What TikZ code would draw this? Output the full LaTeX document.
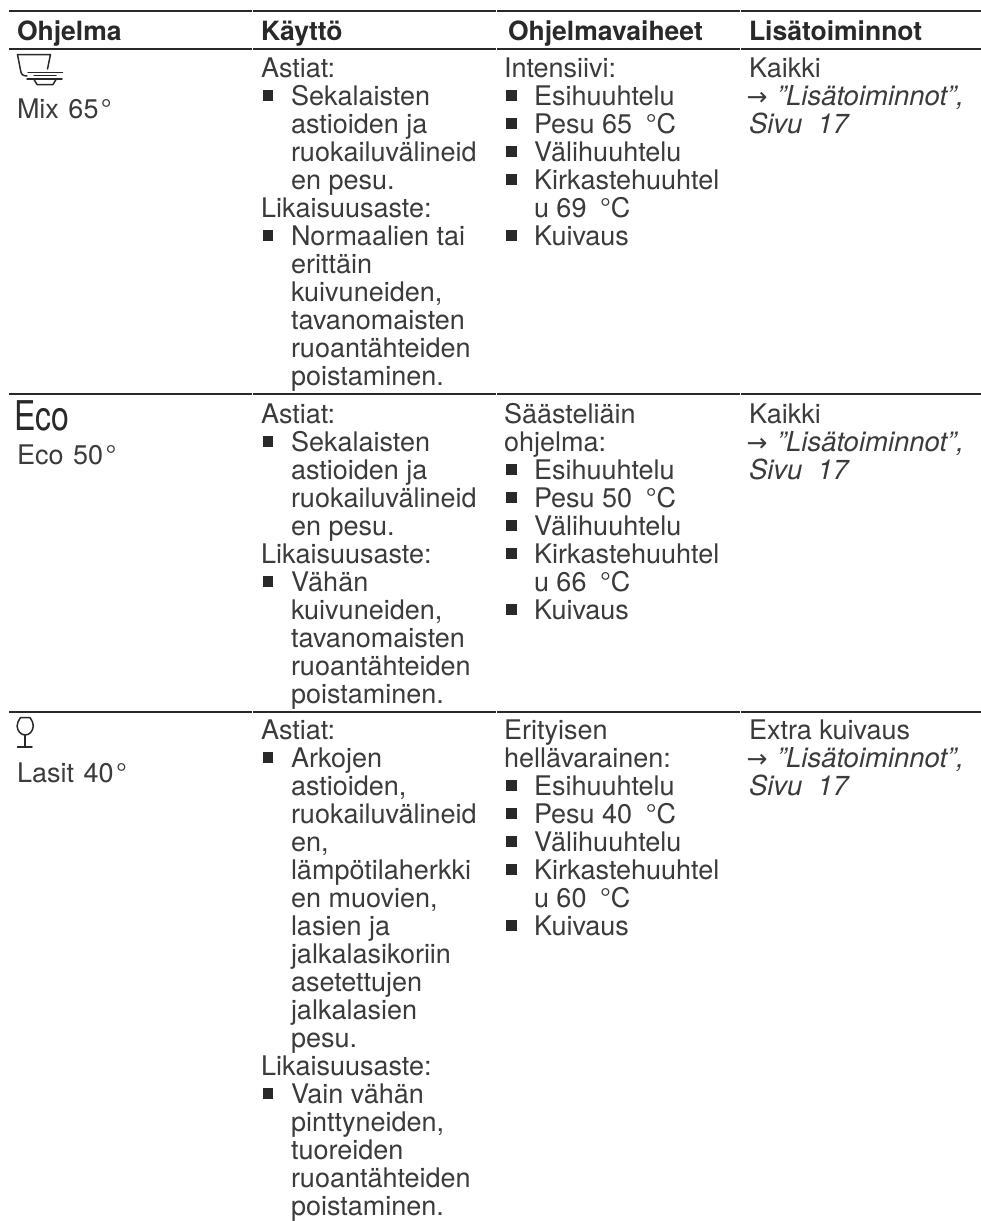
\documentclass[tikz,border=0pt]{standalone}
\usepackage{fontspec}
\setmainfont{TeX Gyre Heros}
\newfontfamily\arrowfont{DejaVu Sans}
\definecolor{ink}{HTML}{2A2828}
\definecolor{body}{HTML}{3C3A3A}
\newcounter{tn}
\tikzset{
  x=1pt,y=-1pt,
  txt/.style={anchor=base west,inner sep=0pt,outer sep=0pt,text=body,font=\fontsize{27}{28}\selectfont},
  hdr/.style={anchor=base west,inner sep=0pt,outer sep=0pt,text=ink,font=\fontsize{26.5}{28}\selectfont\bfseries},
  ital/.style={txt,font=\fontsize{27.5}{28}\selectfont\itshape},
  arr/.style={txt,font=\fontsize{25}{26}\selectfont\arrowfont},
  rulethick/.style={line width=1.8pt,draw=ink},
  bul/.style={fill=ink,draw=none,minimum size=10.5pt,inner sep=0pt,outer sep=0pt,rectangle},
  icon/.style={line width=1.5pt,draw=ink,line cap=round,line join=round}
}
% #1 x, #2 first baseline, #3 line number, #4 text
\newcommand{\tl}[4]{\stepcounter{tn}\node[txt] (t\arabic{tn}) at (#1,{#2+28*#3}) {#4};}
\newcommand{\il}[4]{\stepcounter{tn}\node[ital] (t\arabic{tn}) at (#1,{#2+28*#3}) {#4};}
\newcommand{\bla}[3]{\stepcounter{tn}\node[bul] (b\arabic{tn}) at (268,{#1+28*#2-9.5}) {};\node[txt] (t\arabic{tn}) at (291,{#1+28*#2}) {#3};}
\newcommand{\blb}[3]{\stepcounter{tn}\node[bul] (b\arabic{tn}) at (511.5,{#1+28*#2-9.5}) {};\node[txt] (t\arabic{tn}) at (534,{#1+28*#2}) {#3};}
\newcommand{\rowrule}[1]{\draw[rulethick] (9,#1) -- (252,#1); \draw[rulethick] (252.7,#1) -- (496,#1); \draw[rulethick] (496.7,#1) -- (740,#1); \draw[rulethick] (740.7,#1) -- (981,#1);}
\newcommand{\seealso}[1]{%
  \stepcounter{tn}\node[arr] (a\arabic{tn}) at (746.5,{#1+28}) {→};
  \il{777}{#1}{1}{"Lisätoiminnot",}
  \il{749}{#1}{2}{Sivu\hspace{0.55em}17}}
\newcommand{\degc}{\hspace{6pt}°C}
\newcommand{\degr}{\hspace{2.5pt}°}
\newcommand{\numsp}{\hspace{2pt}}
\begin{document}
\begin{tikzpicture}
\useasboundingbox (0,0) rectangle (981,1221);
\fill[white] (0,0) rectangle (981,1221);
\rowrule{11}\rowrule{48.7}\rowrule{394}\rowrule{712}
\node[hdr] (h1) at (17,40) {Ohjelma};
\node[hdr] (h2) at (261,40) {Käyttö};
\node[hdr] (h3) at (508,40) {Ohjelmavaiheet};
\node[hdr] (h4) at (749,40) {Lisätoiminnot};
% cup icon
\draw[icon] (17.5,54.5) -- (50.5,54.5) -- (47.5,69);
\draw[icon] (17.5,54.5) -- (20.5,70) .. controls (21,74.5) and (23,76) .. (27,76);
\draw[icon] (28,72.5) -- (62.5,72.5);
\draw[icon] (34,75.5) -- (56,75.5);
\draw[icon] (27,79) -- (62,79);
\draw[icon] (34,79.5) -- (37,84.5) -- (53,84.5) -- (56,79.5);
\tl{17}{118}{0}{Mix \numsp 65\degr}
% row 1
\tl{261}{77}{0}{Astiat:}
\bla{77}{1}{Sekalaisten}
\tl{291}{77}{2}{astioiden ja}
\tl{291}{77}{3}{ruokailuvälineid}
\tl{291}{77}{4}{en pesu.}
\tl{261}{77}{5}{Likaisuusaste:}
\bla{77}{6}{Normaalien tai}
\tl{291}{77}{7}{erittäin}
\tl{291}{77}{8}{kuivuneiden,}
\tl{291}{77}{9}{tavanomaisten}
\tl{291}{77}{10}{ruoantähteiden}
\tl{291}{77}{11}{poistaminen.}
\tl{504}{77}{0}{Intensiivi:}
\blb{77}{1}{Esihuuhtelu}
\blb{77}{2}{Pesu 65 \degc}
\blb{77}{3}{Välihuuhtelu}
\blb{77}{4}{Kirkastehuuhtel}
\tl{534}{77}{5}{u 69 \degc}
\blb{77}{6}{Kuivaus}
\tl{749}{77}{0}{Kaikki}
\seealso{77}
% row 2
\node[txt,font=\fontsize{41}{41}\selectfont,xscale=.78,text=ink] (eco) at (14,430) {Eco};
\tl{17}{464}{0}{Eco \numsp 50\degr}
\tl{261}{423}{0}{Astiat:}
\bla{423}{1}{Sekalaisten}
\tl{291}{423}{2}{astioiden ja}
\tl{291}{423}{3}{ruokailuvälineid}
\tl{291}{423}{4}{en pesu.}
\tl{261}{423}{5}{Likaisuusaste:}
\bla{423}{6}{Vähän}
\tl{291}{423}{7}{kuivuneiden,}
\tl{291}{423}{8}{tavanomaisten}
\tl{291}{423}{9}{ruoantähteiden}
\tl{291}{423}{10}{poistaminen.}
\tl{504}{423}{0}{Säästeliäin}
\tl{504}{423}{1}{ohjelma:}
\blb{423}{2}{Esihuuhtelu}
\blb{423}{3}{Pesu 50 \degc}
\blb{423}{4}{Välihuuhtelu}
\blb{423}{5}{Kirkastehuuhtel}
\tl{534}{423}{6}{u 66 \degc}
\blb{423}{7}{Kuivaus}
\tl{749}{423}{0}{Kaikki}
\seealso{423}
% row 3
\draw[icon] (20.5,717.5) -- (30,717.5) .. controls (32,721) and (33.5,723) .. (33.3,726) .. controls (33,731) and (29.5,735) .. (25.2,735) .. controls (21,735) and (17.3,731) .. (17.1,726) .. controls (17,723) and (18.5,721) .. (20.5,717.5);
\draw[icon] (25.2,735) -- (25.2,747);
\draw[icon] (17.5,747) -- (32,747);
\tl{17}{782}{0}{Lasit \numsp 40\degr}
\tl{261}{739}{0}{Astiat:}
\bla{739}{1}{Arkojen}
\tl{291}{739}{2}{astioiden,}
\tl{291}{739}{3}{ruokailuvälineid}
\tl{291}{739}{4}{en,}
\tl{291}{739}{5}{lämpötilaherkki}
\tl{291}{739}{6}{en muovien,}
\tl{291}{739}{7}{lasien ja}
\tl{291}{739}{8}{jalkalasikoriin}
\tl{291}{739}{9}{asetettujen}
\tl{291}{739}{10}{jalkalasien}
\tl{291}{739}{11}{pesu.}
\tl{261}{739}{12}{Likaisuusaste:}
\bla{739}{13}{Vain vähän}
\tl{291}{739}{14}{pinttyneiden,}
\tl{291}{739}{15}{tuoreiden}
\tl{291}{739}{16}{ruoantähteiden}
\tl{291}{739}{17}{poistaminen.}
\tl{504}{739}{0}{Erityisen}
\tl{504}{739}{1}{hellävarainen:}
\blb{739}{2}{Esihuuhtelu}
\blb{739}{3}{Pesu 40 \degc}
\blb{739}{4}{Välihuuhtelu}
\blb{739}{5}{Kirkastehuuhtel}
\tl{534}{739}{6}{u 60 \degc}
\blb{739}{7}{Kuivaus}
\tl{749}{739}{0}{Extra kuivaus}
\seealso{739}
\end{tikzpicture}
\end{document}
